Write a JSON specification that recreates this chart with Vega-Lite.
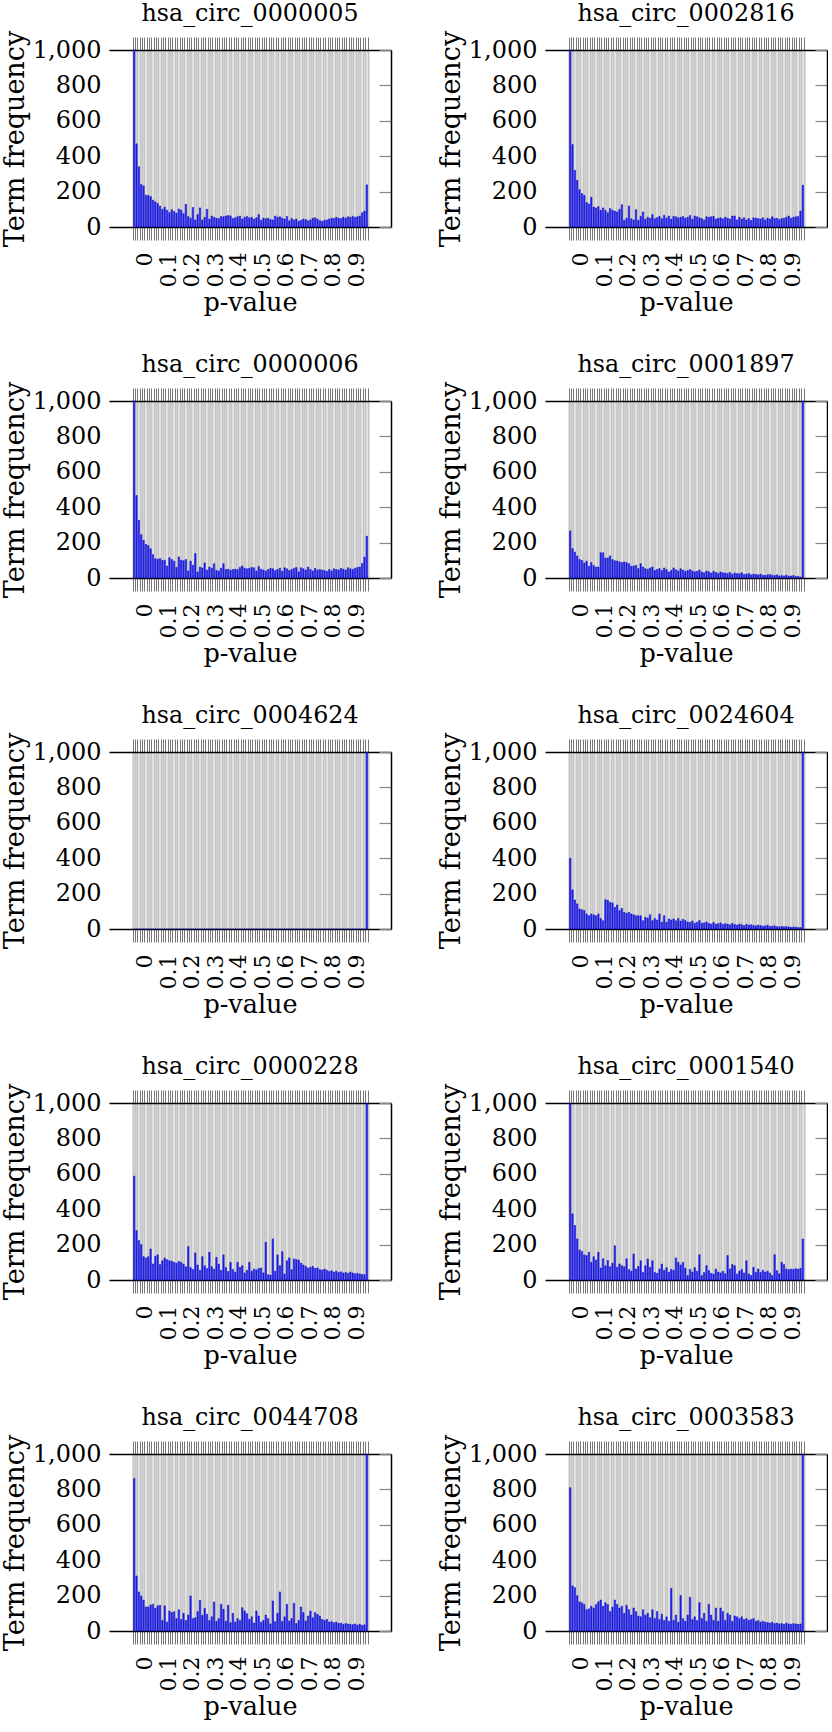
{"$schema":"https://vega.github.io/schema/vega-lite/v6.json","padding":{"left":1,"top":1,"right":0,"bottom":0},"config":{"view":{"stroke":null},"font":"DejaVu Serif"},"data":{"values":[
{"id":"hsa_circ_0000005","lo":0,"hi":0.01,"n":1000},{"id":"hsa_circ_0000005","lo":0.01,"hi":0.02,"n":470},{"id":"hsa_circ_0000005","lo":0.02,"hi":0.03,"n":340},{"id":"hsa_circ_0000005","lo":0.03,"hi":0.04,"n":240},{"id":"hsa_circ_0000005","lo":0.04,"hi":0.05,"n":232},{"id":"hsa_circ_0000005","lo":0.05,"hi":0.06,"n":180},{"id":"hsa_circ_0000005","lo":0.06,"hi":0.07,"n":178},{"id":"hsa_circ_0000005","lo":0.07,"hi":0.08,"n":172},{"id":"hsa_circ_0000005","lo":0.08,"hi":0.09,"n":152},{"id":"hsa_circ_0000005","lo":0.09,"hi":0.1,"n":142},
{"id":"hsa_circ_0000005","lo":0.1,"hi":0.11,"n":133},{"id":"hsa_circ_0000005","lo":0.11,"hi":0.12,"n":118},{"id":"hsa_circ_0000005","lo":0.12,"hi":0.13,"n":100},{"id":"hsa_circ_0000005","lo":0.13,"hi":0.14,"n":112},{"id":"hsa_circ_0000005","lo":0.14,"hi":0.15,"n":95},{"id":"hsa_circ_0000005","lo":0.15,"hi":0.16,"n":82},{"id":"hsa_circ_0000005","lo":0.16,"hi":0.17,"n":98},{"id":"hsa_circ_0000005","lo":0.17,"hi":0.18,"n":88},{"id":"hsa_circ_0000005","lo":0.18,"hi":0.19,"n":78},{"id":"hsa_circ_0000005","lo":0.19,"hi":0.2,"n":102},
{"id":"hsa_circ_0000005","lo":0.2,"hi":0.21,"n":95},{"id":"hsa_circ_0000005","lo":0.21,"hi":0.22,"n":75},{"id":"hsa_circ_0000005","lo":0.22,"hi":0.23,"n":128},{"id":"hsa_circ_0000005","lo":0.23,"hi":0.24,"n":60},{"id":"hsa_circ_0000005","lo":0.24,"hi":0.25,"n":50},{"id":"hsa_circ_0000005","lo":0.25,"hi":0.26,"n":110},{"id":"hsa_circ_0000005","lo":0.26,"hi":0.27,"n":40},{"id":"hsa_circ_0000005","lo":0.27,"hi":0.28,"n":70},{"id":"hsa_circ_0000005","lo":0.28,"hi":0.29,"n":108},{"id":"hsa_circ_0000005","lo":0.29,"hi":0.3,"n":40},
{"id":"hsa_circ_0000005","lo":0.3,"hi":0.31,"n":55},{"id":"hsa_circ_0000005","lo":0.31,"hi":0.32,"n":100},{"id":"hsa_circ_0000005","lo":0.32,"hi":0.33,"n":45},{"id":"hsa_circ_0000005","lo":0.33,"hi":0.34,"n":62},{"id":"hsa_circ_0000005","lo":0.34,"hi":0.35,"n":55},{"id":"hsa_circ_0000005","lo":0.35,"hi":0.36,"n":50},{"id":"hsa_circ_0000005","lo":0.36,"hi":0.37,"n":48},{"id":"hsa_circ_0000005","lo":0.37,"hi":0.38,"n":60},{"id":"hsa_circ_0000005","lo":0.38,"hi":0.39,"n":58},{"id":"hsa_circ_0000005","lo":0.39,"hi":0.4,"n":62},
{"id":"hsa_circ_0000005","lo":0.4,"hi":0.41,"n":65},{"id":"hsa_circ_0000005","lo":0.41,"hi":0.42,"n":63},{"id":"hsa_circ_0000005","lo":0.42,"hi":0.43,"n":48},{"id":"hsa_circ_0000005","lo":0.43,"hi":0.44,"n":52},{"id":"hsa_circ_0000005","lo":0.44,"hi":0.45,"n":58},{"id":"hsa_circ_0000005","lo":0.45,"hi":0.46,"n":62},{"id":"hsa_circ_0000005","lo":0.46,"hi":0.47,"n":45},{"id":"hsa_circ_0000005","lo":0.47,"hi":0.48,"n":55},{"id":"hsa_circ_0000005","lo":0.48,"hi":0.49,"n":60},{"id":"hsa_circ_0000005","lo":0.49,"hi":0.5,"n":52},
{"id":"hsa_circ_0000005","lo":0.5,"hi":0.51,"n":55},{"id":"hsa_circ_0000005","lo":0.51,"hi":0.52,"n":45},{"id":"hsa_circ_0000005","lo":0.52,"hi":0.53,"n":52},{"id":"hsa_circ_0000005","lo":0.53,"hi":0.54,"n":70},{"id":"hsa_circ_0000005","lo":0.54,"hi":0.55,"n":38},{"id":"hsa_circ_0000005","lo":0.55,"hi":0.56,"n":50},{"id":"hsa_circ_0000005","lo":0.56,"hi":0.57,"n":47},{"id":"hsa_circ_0000005","lo":0.57,"hi":0.58,"n":50},{"id":"hsa_circ_0000005","lo":0.58,"hi":0.59,"n":42},{"id":"hsa_circ_0000005","lo":0.59,"hi":0.6,"n":40},
{"id":"hsa_circ_0000005","lo":0.6,"hi":0.61,"n":62},{"id":"hsa_circ_0000005","lo":0.61,"hi":0.62,"n":55},{"id":"hsa_circ_0000005","lo":0.62,"hi":0.63,"n":58},{"id":"hsa_circ_0000005","lo":0.63,"hi":0.64,"n":50},{"id":"hsa_circ_0000005","lo":0.64,"hi":0.65,"n":45},{"id":"hsa_circ_0000005","lo":0.65,"hi":0.66,"n":60},{"id":"hsa_circ_0000005","lo":0.66,"hi":0.67,"n":35},{"id":"hsa_circ_0000005","lo":0.67,"hi":0.68,"n":48},{"id":"hsa_circ_0000005","lo":0.68,"hi":0.69,"n":40},{"id":"hsa_circ_0000005","lo":0.69,"hi":0.7,"n":45},
{"id":"hsa_circ_0000005","lo":0.7,"hi":0.71,"n":32},{"id":"hsa_circ_0000005","lo":0.71,"hi":0.72,"n":38},{"id":"hsa_circ_0000005","lo":0.72,"hi":0.73,"n":45},{"id":"hsa_circ_0000005","lo":0.73,"hi":0.74,"n":42},{"id":"hsa_circ_0000005","lo":0.74,"hi":0.75,"n":35},{"id":"hsa_circ_0000005","lo":0.75,"hi":0.76,"n":40},{"id":"hsa_circ_0000005","lo":0.76,"hi":0.77,"n":50},{"id":"hsa_circ_0000005","lo":0.77,"hi":0.78,"n":52},{"id":"hsa_circ_0000005","lo":0.78,"hi":0.79,"n":45},{"id":"hsa_circ_0000005","lo":0.79,"hi":0.8,"n":36},
{"id":"hsa_circ_0000005","lo":0.8,"hi":0.81,"n":32},{"id":"hsa_circ_0000005","lo":0.81,"hi":0.82,"n":38},{"id":"hsa_circ_0000005","lo":0.82,"hi":0.83,"n":40},{"id":"hsa_circ_0000005","lo":0.83,"hi":0.84,"n":45},{"id":"hsa_circ_0000005","lo":0.84,"hi":0.85,"n":50},{"id":"hsa_circ_0000005","lo":0.85,"hi":0.86,"n":48},{"id":"hsa_circ_0000005","lo":0.86,"hi":0.87,"n":55},{"id":"hsa_circ_0000005","lo":0.87,"hi":0.88,"n":50},{"id":"hsa_circ_0000005","lo":0.88,"hi":0.89,"n":48},{"id":"hsa_circ_0000005","lo":0.89,"hi":0.9,"n":56},
{"id":"hsa_circ_0000005","lo":0.9,"hi":0.91,"n":50},{"id":"hsa_circ_0000005","lo":0.91,"hi":0.92,"n":58},{"id":"hsa_circ_0000005","lo":0.92,"hi":0.93,"n":55},{"id":"hsa_circ_0000005","lo":0.93,"hi":0.94,"n":60},{"id":"hsa_circ_0000005","lo":0.94,"hi":0.95,"n":55},{"id":"hsa_circ_0000005","lo":0.95,"hi":0.96,"n":58},{"id":"hsa_circ_0000005","lo":0.96,"hi":0.97,"n":62},{"id":"hsa_circ_0000005","lo":0.97,"hi":0.98,"n":80},{"id":"hsa_circ_0000005","lo":0.98,"hi":0.99,"n":90},{"id":"hsa_circ_0000005","lo":0.99,"hi":1,"n":238},
{"id":"hsa_circ_0002816","lo":0,"hi":0.01,"n":1000},{"id":"hsa_circ_0002816","lo":0.01,"hi":0.02,"n":466},{"id":"hsa_circ_0002816","lo":0.02,"hi":0.03,"n":320},{"id":"hsa_circ_0002816","lo":0.03,"hi":0.04,"n":264},{"id":"hsa_circ_0002816","lo":0.04,"hi":0.05,"n":211},{"id":"hsa_circ_0002816","lo":0.05,"hi":0.06,"n":189},{"id":"hsa_circ_0002816","lo":0.06,"hi":0.07,"n":179},{"id":"hsa_circ_0002816","lo":0.07,"hi":0.08,"n":138},{"id":"hsa_circ_0002816","lo":0.08,"hi":0.09,"n":130},{"id":"hsa_circ_0002816","lo":0.09,"hi":0.1,"n":168},
{"id":"hsa_circ_0002816","lo":0.1,"hi":0.11,"n":113},{"id":"hsa_circ_0002816","lo":0.11,"hi":0.12,"n":108},{"id":"hsa_circ_0002816","lo":0.12,"hi":0.13,"n":115},{"id":"hsa_circ_0002816","lo":0.13,"hi":0.14,"n":94},{"id":"hsa_circ_0002816","lo":0.14,"hi":0.15,"n":108},{"id":"hsa_circ_0002816","lo":0.15,"hi":0.16,"n":94},{"id":"hsa_circ_0002816","lo":0.16,"hi":0.17,"n":81},{"id":"hsa_circ_0002816","lo":0.17,"hi":0.18,"n":104},{"id":"hsa_circ_0002816","lo":0.18,"hi":0.19,"n":95},{"id":"hsa_circ_0002816","lo":0.19,"hi":0.2,"n":90},
{"id":"hsa_circ_0002816","lo":0.2,"hi":0.21,"n":85},{"id":"hsa_circ_0002816","lo":0.21,"hi":0.22,"n":100},{"id":"hsa_circ_0002816","lo":0.22,"hi":0.23,"n":126},{"id":"hsa_circ_0002816","lo":0.23,"hi":0.24,"n":38},{"id":"hsa_circ_0002816","lo":0.24,"hi":0.25,"n":50},{"id":"hsa_circ_0002816","lo":0.25,"hi":0.26,"n":119},{"id":"hsa_circ_0002816","lo":0.26,"hi":0.27,"n":47},{"id":"hsa_circ_0002816","lo":0.27,"hi":0.28,"n":40},{"id":"hsa_circ_0002816","lo":0.28,"hi":0.29,"n":98},{"id":"hsa_circ_0002816","lo":0.29,"hi":0.3,"n":38},
{"id":"hsa_circ_0002816","lo":0.3,"hi":0.31,"n":60},{"id":"hsa_circ_0002816","lo":0.31,"hi":0.32,"n":85},{"id":"hsa_circ_0002816","lo":0.32,"hi":0.33,"n":45},{"id":"hsa_circ_0002816","lo":0.33,"hi":0.34,"n":55},{"id":"hsa_circ_0002816","lo":0.34,"hi":0.35,"n":50},{"id":"hsa_circ_0002816","lo":0.35,"hi":0.36,"n":70},{"id":"hsa_circ_0002816","lo":0.36,"hi":0.37,"n":47},{"id":"hsa_circ_0002816","lo":0.37,"hi":0.38,"n":53},{"id":"hsa_circ_0002816","lo":0.38,"hi":0.39,"n":60},{"id":"hsa_circ_0002816","lo":0.39,"hi":0.4,"n":47},
{"id":"hsa_circ_0002816","lo":0.4,"hi":0.41,"n":66},{"id":"hsa_circ_0002816","lo":0.41,"hi":0.42,"n":50},{"id":"hsa_circ_0002816","lo":0.42,"hi":0.43,"n":62},{"id":"hsa_circ_0002816","lo":0.43,"hi":0.44,"n":45},{"id":"hsa_circ_0002816","lo":0.44,"hi":0.45,"n":60},{"id":"hsa_circ_0002816","lo":0.45,"hi":0.46,"n":58},{"id":"hsa_circ_0002816","lo":0.46,"hi":0.47,"n":52},{"id":"hsa_circ_0002816","lo":0.47,"hi":0.48,"n":55},{"id":"hsa_circ_0002816","lo":0.48,"hi":0.49,"n":60},{"id":"hsa_circ_0002816","lo":0.49,"hi":0.5,"n":50},
{"id":"hsa_circ_0002816","lo":0.5,"hi":0.51,"n":55},{"id":"hsa_circ_0002816","lo":0.51,"hi":0.52,"n":65},{"id":"hsa_circ_0002816","lo":0.52,"hi":0.53,"n":45},{"id":"hsa_circ_0002816","lo":0.53,"hi":0.54,"n":62},{"id":"hsa_circ_0002816","lo":0.54,"hi":0.55,"n":58},{"id":"hsa_circ_0002816","lo":0.55,"hi":0.56,"n":52},{"id":"hsa_circ_0002816","lo":0.56,"hi":0.57,"n":48},{"id":"hsa_circ_0002816","lo":0.57,"hi":0.58,"n":40},{"id":"hsa_circ_0002816","lo":0.58,"hi":0.59,"n":58},{"id":"hsa_circ_0002816","lo":0.59,"hi":0.6,"n":55},
{"id":"hsa_circ_0002816","lo":0.6,"hi":0.61,"n":58},{"id":"hsa_circ_0002816","lo":0.61,"hi":0.62,"n":60},{"id":"hsa_circ_0002816","lo":0.62,"hi":0.63,"n":45},{"id":"hsa_circ_0002816","lo":0.63,"hi":0.64,"n":50},{"id":"hsa_circ_0002816","lo":0.64,"hi":0.65,"n":52},{"id":"hsa_circ_0002816","lo":0.65,"hi":0.66,"n":46},{"id":"hsa_circ_0002816","lo":0.66,"hi":0.67,"n":55},{"id":"hsa_circ_0002816","lo":0.67,"hi":0.68,"n":50},{"id":"hsa_circ_0002816","lo":0.68,"hi":0.69,"n":45},{"id":"hsa_circ_0002816","lo":0.69,"hi":0.7,"n":62},
{"id":"hsa_circ_0002816","lo":0.7,"hi":0.71,"n":62},{"id":"hsa_circ_0002816","lo":0.71,"hi":0.72,"n":40},{"id":"hsa_circ_0002816","lo":0.72,"hi":0.73,"n":55},{"id":"hsa_circ_0002816","lo":0.73,"hi":0.74,"n":45},{"id":"hsa_circ_0002816","lo":0.74,"hi":0.75,"n":52},{"id":"hsa_circ_0002816","lo":0.75,"hi":0.76,"n":40},{"id":"hsa_circ_0002816","lo":0.76,"hi":0.77,"n":48},{"id":"hsa_circ_0002816","lo":0.77,"hi":0.78,"n":38},{"id":"hsa_circ_0002816","lo":0.78,"hi":0.79,"n":52},{"id":"hsa_circ_0002816","lo":0.79,"hi":0.8,"n":50},
{"id":"hsa_circ_0002816","lo":0.8,"hi":0.81,"n":48},{"id":"hsa_circ_0002816","lo":0.81,"hi":0.82,"n":45},{"id":"hsa_circ_0002816","lo":0.82,"hi":0.83,"n":52},{"id":"hsa_circ_0002816","lo":0.83,"hi":0.84,"n":40},{"id":"hsa_circ_0002816","lo":0.84,"hi":0.85,"n":50},{"id":"hsa_circ_0002816","lo":0.85,"hi":0.86,"n":45},{"id":"hsa_circ_0002816","lo":0.86,"hi":0.87,"n":58},{"id":"hsa_circ_0002816","lo":0.87,"hi":0.88,"n":48},{"id":"hsa_circ_0002816","lo":0.88,"hi":0.89,"n":50},{"id":"hsa_circ_0002816","lo":0.89,"hi":0.9,"n":42},
{"id":"hsa_circ_0002816","lo":0.9,"hi":0.91,"n":48},{"id":"hsa_circ_0002816","lo":0.91,"hi":0.92,"n":50},{"id":"hsa_circ_0002816","lo":0.92,"hi":0.93,"n":55},{"id":"hsa_circ_0002816","lo":0.93,"hi":0.94,"n":62},{"id":"hsa_circ_0002816","lo":0.94,"hi":0.95,"n":50},{"id":"hsa_circ_0002816","lo":0.95,"hi":0.96,"n":55},{"id":"hsa_circ_0002816","lo":0.96,"hi":0.97,"n":58},{"id":"hsa_circ_0002816","lo":0.97,"hi":0.98,"n":60},{"id":"hsa_circ_0002816","lo":0.98,"hi":0.99,"n":90},{"id":"hsa_circ_0002816","lo":0.99,"hi":1,"n":236},
{"id":"hsa_circ_0000006","lo":0,"hi":0.01,"n":1000},{"id":"hsa_circ_0000006","lo":0.01,"hi":0.02,"n":466},{"id":"hsa_circ_0000006","lo":0.02,"hi":0.03,"n":326},{"id":"hsa_circ_0000006","lo":0.03,"hi":0.04,"n":245},{"id":"hsa_circ_0000006","lo":0.04,"hi":0.05,"n":213},{"id":"hsa_circ_0000006","lo":0.05,"hi":0.06,"n":190},{"id":"hsa_circ_0000006","lo":0.06,"hi":0.07,"n":183},{"id":"hsa_circ_0000006","lo":0.07,"hi":0.08,"n":165},{"id":"hsa_circ_0000006","lo":0.08,"hi":0.09,"n":132},{"id":"hsa_circ_0000006","lo":0.09,"hi":0.1,"n":109},
{"id":"hsa_circ_0000006","lo":0.1,"hi":0.11,"n":106},{"id":"hsa_circ_0000006","lo":0.11,"hi":0.12,"n":110},{"id":"hsa_circ_0000006","lo":0.12,"hi":0.13,"n":100},{"id":"hsa_circ_0000006","lo":0.13,"hi":0.14,"n":100},{"id":"hsa_circ_0000006","lo":0.14,"hi":0.15,"n":68},{"id":"hsa_circ_0000006","lo":0.15,"hi":0.16,"n":115},{"id":"hsa_circ_0000006","lo":0.16,"hi":0.17,"n":104},{"id":"hsa_circ_0000006","lo":0.17,"hi":0.18,"n":96},{"id":"hsa_circ_0000006","lo":0.18,"hi":0.19,"n":60},{"id":"hsa_circ_0000006","lo":0.19,"hi":0.2,"n":119},
{"id":"hsa_circ_0000006","lo":0.2,"hi":0.21,"n":100},{"id":"hsa_circ_0000006","lo":0.21,"hi":0.22,"n":98},{"id":"hsa_circ_0000006","lo":0.22,"hi":0.23,"n":105},{"id":"hsa_circ_0000006","lo":0.23,"hi":0.24,"n":40},{"id":"hsa_circ_0000006","lo":0.24,"hi":0.25,"n":95},{"id":"hsa_circ_0000006","lo":0.25,"hi":0.26,"n":72},{"id":"hsa_circ_0000006","lo":0.26,"hi":0.27,"n":138},{"id":"hsa_circ_0000006","lo":0.27,"hi":0.28,"n":34},{"id":"hsa_circ_0000006","lo":0.28,"hi":0.29,"n":62},{"id":"hsa_circ_0000006","lo":0.29,"hi":0.3,"n":57},
{"id":"hsa_circ_0000006","lo":0.3,"hi":0.31,"n":85},{"id":"hsa_circ_0000006","lo":0.31,"hi":0.32,"n":45},{"id":"hsa_circ_0000006","lo":0.32,"hi":0.33,"n":62},{"id":"hsa_circ_0000006","lo":0.33,"hi":0.34,"n":55},{"id":"hsa_circ_0000006","lo":0.34,"hi":0.35,"n":81},{"id":"hsa_circ_0000006","lo":0.35,"hi":0.36,"n":43},{"id":"hsa_circ_0000006","lo":0.36,"hi":0.37,"n":40},{"id":"hsa_circ_0000006","lo":0.37,"hi":0.38,"n":55},{"id":"hsa_circ_0000006","lo":0.38,"hi":0.39,"n":81},{"id":"hsa_circ_0000006","lo":0.39,"hi":0.4,"n":48},
{"id":"hsa_circ_0000006","lo":0.4,"hi":0.41,"n":50},{"id":"hsa_circ_0000006","lo":0.41,"hi":0.42,"n":45},{"id":"hsa_circ_0000006","lo":0.42,"hi":0.43,"n":48},{"id":"hsa_circ_0000006","lo":0.43,"hi":0.44,"n":50},{"id":"hsa_circ_0000006","lo":0.44,"hi":0.45,"n":48},{"id":"hsa_circ_0000006","lo":0.45,"hi":0.46,"n":60},{"id":"hsa_circ_0000006","lo":0.46,"hi":0.47,"n":68},{"id":"hsa_circ_0000006","lo":0.47,"hi":0.48,"n":55},{"id":"hsa_circ_0000006","lo":0.48,"hi":0.49,"n":52},{"id":"hsa_circ_0000006","lo":0.49,"hi":0.5,"n":55},
{"id":"hsa_circ_0000006","lo":0.5,"hi":0.51,"n":60},{"id":"hsa_circ_0000006","lo":0.51,"hi":0.52,"n":58},{"id":"hsa_circ_0000006","lo":0.52,"hi":0.53,"n":40},{"id":"hsa_circ_0000006","lo":0.53,"hi":0.54,"n":65},{"id":"hsa_circ_0000006","lo":0.54,"hi":0.55,"n":50},{"id":"hsa_circ_0000006","lo":0.55,"hi":0.56,"n":45},{"id":"hsa_circ_0000006","lo":0.56,"hi":0.57,"n":40},{"id":"hsa_circ_0000006","lo":0.57,"hi":0.58,"n":48},{"id":"hsa_circ_0000006","lo":0.58,"hi":0.59,"n":55},{"id":"hsa_circ_0000006","lo":0.59,"hi":0.6,"n":52},
{"id":"hsa_circ_0000006","lo":0.6,"hi":0.61,"n":42},{"id":"hsa_circ_0000006","lo":0.61,"hi":0.62,"n":48},{"id":"hsa_circ_0000006","lo":0.62,"hi":0.63,"n":55},{"id":"hsa_circ_0000006","lo":0.63,"hi":0.64,"n":38},{"id":"hsa_circ_0000006","lo":0.64,"hi":0.65,"n":58},{"id":"hsa_circ_0000006","lo":0.65,"hi":0.66,"n":52},{"id":"hsa_circ_0000006","lo":0.66,"hi":0.67,"n":42},{"id":"hsa_circ_0000006","lo":0.67,"hi":0.68,"n":48},{"id":"hsa_circ_0000006","lo":0.68,"hi":0.69,"n":55},{"id":"hsa_circ_0000006","lo":0.69,"hi":0.7,"n":60},
{"id":"hsa_circ_0000006","lo":0.7,"hi":0.71,"n":35},{"id":"hsa_circ_0000006","lo":0.71,"hi":0.72,"n":58},{"id":"hsa_circ_0000006","lo":0.72,"hi":0.73,"n":52},{"id":"hsa_circ_0000006","lo":0.73,"hi":0.74,"n":45},{"id":"hsa_circ_0000006","lo":0.74,"hi":0.75,"n":62},{"id":"hsa_circ_0000006","lo":0.75,"hi":0.76,"n":48},{"id":"hsa_circ_0000006","lo":0.76,"hi":0.77,"n":40},{"id":"hsa_circ_0000006","lo":0.77,"hi":0.78,"n":55},{"id":"hsa_circ_0000006","lo":0.78,"hi":0.79,"n":45},{"id":"hsa_circ_0000006","lo":0.79,"hi":0.8,"n":48},
{"id":"hsa_circ_0000006","lo":0.8,"hi":0.81,"n":45},{"id":"hsa_circ_0000006","lo":0.81,"hi":0.82,"n":42},{"id":"hsa_circ_0000006","lo":0.82,"hi":0.83,"n":38},{"id":"hsa_circ_0000006","lo":0.83,"hi":0.84,"n":48},{"id":"hsa_circ_0000006","lo":0.84,"hi":0.85,"n":40},{"id":"hsa_circ_0000006","lo":0.85,"hi":0.86,"n":52},{"id":"hsa_circ_0000006","lo":0.86,"hi":0.87,"n":48},{"id":"hsa_circ_0000006","lo":0.87,"hi":0.88,"n":45},{"id":"hsa_circ_0000006","lo":0.88,"hi":0.89,"n":55},{"id":"hsa_circ_0000006","lo":0.89,"hi":0.9,"n":50},
{"id":"hsa_circ_0000006","lo":0.9,"hi":0.91,"n":45},{"id":"hsa_circ_0000006","lo":0.91,"hi":0.92,"n":58},{"id":"hsa_circ_0000006","lo":0.92,"hi":0.93,"n":52},{"id":"hsa_circ_0000006","lo":0.93,"hi":0.94,"n":48},{"id":"hsa_circ_0000006","lo":0.94,"hi":0.95,"n":55},{"id":"hsa_circ_0000006","lo":0.95,"hi":0.96,"n":60},{"id":"hsa_circ_0000006","lo":0.96,"hi":0.97,"n":62},{"id":"hsa_circ_0000006","lo":0.97,"hi":0.98,"n":82},{"id":"hsa_circ_0000006","lo":0.98,"hi":0.99,"n":118},{"id":"hsa_circ_0000006","lo":0.99,"hi":1,"n":236},
{"id":"hsa_circ_0001897","lo":0,"hi":0.01,"n":266},{"id":"hsa_circ_0001897","lo":0.01,"hi":0.02,"n":166},{"id":"hsa_circ_0001897","lo":0.02,"hi":0.03,"n":147},{"id":"hsa_circ_0001897","lo":0.03,"hi":0.04,"n":125},{"id":"hsa_circ_0001897","lo":0.04,"hi":0.05,"n":104},{"id":"hsa_circ_0001897","lo":0.05,"hi":0.06,"n":100},{"id":"hsa_circ_0001897","lo":0.06,"hi":0.07,"n":85},{"id":"hsa_circ_0001897","lo":0.07,"hi":0.08,"n":95},{"id":"hsa_circ_0001897","lo":0.08,"hi":0.09,"n":66},{"id":"hsa_circ_0001897","lo":0.09,"hi":0.1,"n":87},
{"id":"hsa_circ_0001897","lo":0.1,"hi":0.11,"n":70},{"id":"hsa_circ_0001897","lo":0.11,"hi":0.12,"n":62},{"id":"hsa_circ_0001897","lo":0.12,"hi":0.13,"n":62},{"id":"hsa_circ_0001897","lo":0.13,"hi":0.14,"n":143},{"id":"hsa_circ_0001897","lo":0.14,"hi":0.15,"n":143},{"id":"hsa_circ_0001897","lo":0.15,"hi":0.16,"n":113},{"id":"hsa_circ_0001897","lo":0.16,"hi":0.17,"n":113},{"id":"hsa_circ_0001897","lo":0.17,"hi":0.18,"n":125},{"id":"hsa_circ_0001897","lo":0.18,"hi":0.19,"n":104},{"id":"hsa_circ_0001897","lo":0.19,"hi":0.2,"n":98},
{"id":"hsa_circ_0001897","lo":0.2,"hi":0.21,"n":96},{"id":"hsa_circ_0001897","lo":0.21,"hi":0.22,"n":91},{"id":"hsa_circ_0001897","lo":0.22,"hi":0.23,"n":87},{"id":"hsa_circ_0001897","lo":0.23,"hi":0.24,"n":91},{"id":"hsa_circ_0001897","lo":0.24,"hi":0.25,"n":87},{"id":"hsa_circ_0001897","lo":0.25,"hi":0.26,"n":81},{"id":"hsa_circ_0001897","lo":0.26,"hi":0.27,"n":66},{"id":"hsa_circ_0001897","lo":0.27,"hi":0.28,"n":68},{"id":"hsa_circ_0001897","lo":0.28,"hi":0.29,"n":72},{"id":"hsa_circ_0001897","lo":0.29,"hi":0.3,"n":53},
{"id":"hsa_circ_0001897","lo":0.3,"hi":0.31,"n":81},{"id":"hsa_circ_0001897","lo":0.31,"hi":0.32,"n":62},{"id":"hsa_circ_0001897","lo":0.32,"hi":0.33,"n":53},{"id":"hsa_circ_0001897","lo":0.33,"hi":0.34,"n":49},{"id":"hsa_circ_0001897","lo":0.34,"hi":0.35,"n":57},{"id":"hsa_circ_0001897","lo":0.35,"hi":0.36,"n":62},{"id":"hsa_circ_0001897","lo":0.36,"hi":0.37,"n":43},{"id":"hsa_circ_0001897","lo":0.37,"hi":0.38,"n":49},{"id":"hsa_circ_0001897","lo":0.38,"hi":0.39,"n":53},{"id":"hsa_circ_0001897","lo":0.39,"hi":0.4,"n":42},
{"id":"hsa_circ_0001897","lo":0.4,"hi":0.41,"n":57},{"id":"hsa_circ_0001897","lo":0.41,"hi":0.42,"n":47},{"id":"hsa_circ_0001897","lo":0.42,"hi":0.43,"n":34},{"id":"hsa_circ_0001897","lo":0.43,"hi":0.44,"n":43},{"id":"hsa_circ_0001897","lo":0.44,"hi":0.45,"n":57},{"id":"hsa_circ_0001897","lo":0.45,"hi":0.46,"n":47},{"id":"hsa_circ_0001897","lo":0.46,"hi":0.47,"n":40},{"id":"hsa_circ_0001897","lo":0.47,"hi":0.48,"n":52},{"id":"hsa_circ_0001897","lo":0.48,"hi":0.49,"n":45},{"id":"hsa_circ_0001897","lo":0.49,"hi":0.5,"n":38},
{"id":"hsa_circ_0001897","lo":0.5,"hi":0.51,"n":42},{"id":"hsa_circ_0001897","lo":0.51,"hi":0.52,"n":48},{"id":"hsa_circ_0001897","lo":0.52,"hi":0.53,"n":40},{"id":"hsa_circ_0001897","lo":0.53,"hi":0.54,"n":35},{"id":"hsa_circ_0001897","lo":0.54,"hi":0.55,"n":38},{"id":"hsa_circ_0001897","lo":0.55,"hi":0.56,"n":45},{"id":"hsa_circ_0001897","lo":0.56,"hi":0.57,"n":34},{"id":"hsa_circ_0001897","lo":0.57,"hi":0.58,"n":30},{"id":"hsa_circ_0001897","lo":0.58,"hi":0.59,"n":40},{"id":"hsa_circ_0001897","lo":0.59,"hi":0.6,"n":36},
{"id":"hsa_circ_0001897","lo":0.6,"hi":0.61,"n":28},{"id":"hsa_circ_0001897","lo":0.61,"hi":0.62,"n":38},{"id":"hsa_circ_0001897","lo":0.62,"hi":0.63,"n":32},{"id":"hsa_circ_0001897","lo":0.63,"hi":0.64,"n":26},{"id":"hsa_circ_0001897","lo":0.64,"hi":0.65,"n":34},{"id":"hsa_circ_0001897","lo":0.65,"hi":0.66,"n":30},{"id":"hsa_circ_0001897","lo":0.66,"hi":0.67,"n":28},{"id":"hsa_circ_0001897","lo":0.67,"hi":0.68,"n":25},{"id":"hsa_circ_0001897","lo":0.68,"hi":0.69,"n":32},{"id":"hsa_circ_0001897","lo":0.69,"hi":0.7,"n":22},
{"id":"hsa_circ_0001897","lo":0.7,"hi":0.71,"n":28},{"id":"hsa_circ_0001897","lo":0.71,"hi":0.72,"n":26},{"id":"hsa_circ_0001897","lo":0.72,"hi":0.73,"n":24},{"id":"hsa_circ_0001897","lo":0.73,"hi":0.74,"n":30},{"id":"hsa_circ_0001897","lo":0.74,"hi":0.75,"n":20},{"id":"hsa_circ_0001897","lo":0.75,"hi":0.76,"n":22},{"id":"hsa_circ_0001897","lo":0.76,"hi":0.77,"n":26},{"id":"hsa_circ_0001897","lo":0.77,"hi":0.78,"n":18},{"id":"hsa_circ_0001897","lo":0.78,"hi":0.79,"n":22},{"id":"hsa_circ_0001897","lo":0.79,"hi":0.8,"n":20},
{"id":"hsa_circ_0001897","lo":0.8,"hi":0.81,"n":18},{"id":"hsa_circ_0001897","lo":0.81,"hi":0.82,"n":22},{"id":"hsa_circ_0001897","lo":0.82,"hi":0.83,"n":16},{"id":"hsa_circ_0001897","lo":0.83,"hi":0.84,"n":15},{"id":"hsa_circ_0001897","lo":0.84,"hi":0.85,"n":18},{"id":"hsa_circ_0001897","lo":0.85,"hi":0.86,"n":20},{"id":"hsa_circ_0001897","lo":0.86,"hi":0.87,"n":16},{"id":"hsa_circ_0001897","lo":0.87,"hi":0.88,"n":14},{"id":"hsa_circ_0001897","lo":0.88,"hi":0.89,"n":18},{"id":"hsa_circ_0001897","lo":0.89,"hi":0.9,"n":12},
{"id":"hsa_circ_0001897","lo":0.9,"hi":0.91,"n":14},{"id":"hsa_circ_0001897","lo":0.91,"hi":0.92,"n":12},{"id":"hsa_circ_0001897","lo":0.92,"hi":0.93,"n":16},{"id":"hsa_circ_0001897","lo":0.93,"hi":0.94,"n":10},{"id":"hsa_circ_0001897","lo":0.94,"hi":0.95,"n":12},{"id":"hsa_circ_0001897","lo":0.95,"hi":0.96,"n":14},{"id":"hsa_circ_0001897","lo":0.96,"hi":0.97,"n":8},{"id":"hsa_circ_0001897","lo":0.97,"hi":0.98,"n":10},{"id":"hsa_circ_0001897","lo":0.98,"hi":0.99,"n":6},{"id":"hsa_circ_0001897","lo":0.99,"hi":1,"n":1000},
{"id":"hsa_circ_0004624","lo":0,"hi":0.01,"n":0},{"id":"hsa_circ_0004624","lo":0.01,"hi":0.02,"n":0},{"id":"hsa_circ_0004624","lo":0.02,"hi":0.03,"n":0},{"id":"hsa_circ_0004624","lo":0.03,"hi":0.04,"n":0},{"id":"hsa_circ_0004624","lo":0.04,"hi":0.05,"n":0},{"id":"hsa_circ_0004624","lo":0.05,"hi":0.06,"n":0},{"id":"hsa_circ_0004624","lo":0.06,"hi":0.07,"n":0},{"id":"hsa_circ_0004624","lo":0.07,"hi":0.08,"n":0},{"id":"hsa_circ_0004624","lo":0.08,"hi":0.09,"n":0},{"id":"hsa_circ_0004624","lo":0.09,"hi":0.1,"n":0},
{"id":"hsa_circ_0004624","lo":0.1,"hi":0.11,"n":0},{"id":"hsa_circ_0004624","lo":0.11,"hi":0.12,"n":0},{"id":"hsa_circ_0004624","lo":0.12,"hi":0.13,"n":0},{"id":"hsa_circ_0004624","lo":0.13,"hi":0.14,"n":0},{"id":"hsa_circ_0004624","lo":0.14,"hi":0.15,"n":0},{"id":"hsa_circ_0004624","lo":0.15,"hi":0.16,"n":0},{"id":"hsa_circ_0004624","lo":0.16,"hi":0.17,"n":0},{"id":"hsa_circ_0004624","lo":0.17,"hi":0.18,"n":0},{"id":"hsa_circ_0004624","lo":0.18,"hi":0.19,"n":0},{"id":"hsa_circ_0004624","lo":0.19,"hi":0.2,"n":0},
{"id":"hsa_circ_0004624","lo":0.2,"hi":0.21,"n":0},{"id":"hsa_circ_0004624","lo":0.21,"hi":0.22,"n":0},{"id":"hsa_circ_0004624","lo":0.22,"hi":0.23,"n":0},{"id":"hsa_circ_0004624","lo":0.23,"hi":0.24,"n":0},{"id":"hsa_circ_0004624","lo":0.24,"hi":0.25,"n":0},{"id":"hsa_circ_0004624","lo":0.25,"hi":0.26,"n":0},{"id":"hsa_circ_0004624","lo":0.26,"hi":0.27,"n":0},{"id":"hsa_circ_0004624","lo":0.27,"hi":0.28,"n":0},{"id":"hsa_circ_0004624","lo":0.28,"hi":0.29,"n":0},{"id":"hsa_circ_0004624","lo":0.29,"hi":0.3,"n":0},
{"id":"hsa_circ_0004624","lo":0.3,"hi":0.31,"n":0},{"id":"hsa_circ_0004624","lo":0.31,"hi":0.32,"n":0},{"id":"hsa_circ_0004624","lo":0.32,"hi":0.33,"n":0},{"id":"hsa_circ_0004624","lo":0.33,"hi":0.34,"n":0},{"id":"hsa_circ_0004624","lo":0.34,"hi":0.35,"n":0},{"id":"hsa_circ_0004624","lo":0.35,"hi":0.36,"n":0},{"id":"hsa_circ_0004624","lo":0.36,"hi":0.37,"n":0},{"id":"hsa_circ_0004624","lo":0.37,"hi":0.38,"n":0},{"id":"hsa_circ_0004624","lo":0.38,"hi":0.39,"n":0},{"id":"hsa_circ_0004624","lo":0.39,"hi":0.4,"n":0},
{"id":"hsa_circ_0004624","lo":0.4,"hi":0.41,"n":0},{"id":"hsa_circ_0004624","lo":0.41,"hi":0.42,"n":0},{"id":"hsa_circ_0004624","lo":0.42,"hi":0.43,"n":0},{"id":"hsa_circ_0004624","lo":0.43,"hi":0.44,"n":0},{"id":"hsa_circ_0004624","lo":0.44,"hi":0.45,"n":0},{"id":"hsa_circ_0004624","lo":0.45,"hi":0.46,"n":0},{"id":"hsa_circ_0004624","lo":0.46,"hi":0.47,"n":0},{"id":"hsa_circ_0004624","lo":0.47,"hi":0.48,"n":0},{"id":"hsa_circ_0004624","lo":0.48,"hi":0.49,"n":0},{"id":"hsa_circ_0004624","lo":0.49,"hi":0.5,"n":0},
{"id":"hsa_circ_0004624","lo":0.5,"hi":0.51,"n":0},{"id":"hsa_circ_0004624","lo":0.51,"hi":0.52,"n":0},{"id":"hsa_circ_0004624","lo":0.52,"hi":0.53,"n":0},{"id":"hsa_circ_0004624","lo":0.53,"hi":0.54,"n":0},{"id":"hsa_circ_0004624","lo":0.54,"hi":0.55,"n":0},{"id":"hsa_circ_0004624","lo":0.55,"hi":0.56,"n":0},{"id":"hsa_circ_0004624","lo":0.56,"hi":0.57,"n":0},{"id":"hsa_circ_0004624","lo":0.57,"hi":0.58,"n":0},{"id":"hsa_circ_0004624","lo":0.58,"hi":0.59,"n":0},{"id":"hsa_circ_0004624","lo":0.59,"hi":0.6,"n":0},
{"id":"hsa_circ_0004624","lo":0.6,"hi":0.61,"n":0},{"id":"hsa_circ_0004624","lo":0.61,"hi":0.62,"n":0},{"id":"hsa_circ_0004624","lo":0.62,"hi":0.63,"n":0},{"id":"hsa_circ_0004624","lo":0.63,"hi":0.64,"n":0},{"id":"hsa_circ_0004624","lo":0.64,"hi":0.65,"n":0},{"id":"hsa_circ_0004624","lo":0.65,"hi":0.66,"n":0},{"id":"hsa_circ_0004624","lo":0.66,"hi":0.67,"n":0},{"id":"hsa_circ_0004624","lo":0.67,"hi":0.68,"n":0},{"id":"hsa_circ_0004624","lo":0.68,"hi":0.69,"n":0},{"id":"hsa_circ_0004624","lo":0.69,"hi":0.7,"n":0},
{"id":"hsa_circ_0004624","lo":0.7,"hi":0.71,"n":0},{"id":"hsa_circ_0004624","lo":0.71,"hi":0.72,"n":0},{"id":"hsa_circ_0004624","lo":0.72,"hi":0.73,"n":0},{"id":"hsa_circ_0004624","lo":0.73,"hi":0.74,"n":0},{"id":"hsa_circ_0004624","lo":0.74,"hi":0.75,"n":0},{"id":"hsa_circ_0004624","lo":0.75,"hi":0.76,"n":0},{"id":"hsa_circ_0004624","lo":0.76,"hi":0.77,"n":0},{"id":"hsa_circ_0004624","lo":0.77,"hi":0.78,"n":0},{"id":"hsa_circ_0004624","lo":0.78,"hi":0.79,"n":0},{"id":"hsa_circ_0004624","lo":0.79,"hi":0.8,"n":0},
{"id":"hsa_circ_0004624","lo":0.8,"hi":0.81,"n":0},{"id":"hsa_circ_0004624","lo":0.81,"hi":0.82,"n":0},{"id":"hsa_circ_0004624","lo":0.82,"hi":0.83,"n":0},{"id":"hsa_circ_0004624","lo":0.83,"hi":0.84,"n":0},{"id":"hsa_circ_0004624","lo":0.84,"hi":0.85,"n":0},{"id":"hsa_circ_0004624","lo":0.85,"hi":0.86,"n":0},{"id":"hsa_circ_0004624","lo":0.86,"hi":0.87,"n":0},{"id":"hsa_circ_0004624","lo":0.87,"hi":0.88,"n":0},{"id":"hsa_circ_0004624","lo":0.88,"hi":0.89,"n":0},{"id":"hsa_circ_0004624","lo":0.89,"hi":0.9,"n":0},
{"id":"hsa_circ_0004624","lo":0.9,"hi":0.91,"n":0},{"id":"hsa_circ_0004624","lo":0.91,"hi":0.92,"n":0},{"id":"hsa_circ_0004624","lo":0.92,"hi":0.93,"n":0},{"id":"hsa_circ_0004624","lo":0.93,"hi":0.94,"n":0},{"id":"hsa_circ_0004624","lo":0.94,"hi":0.95,"n":0},{"id":"hsa_circ_0004624","lo":0.95,"hi":0.96,"n":0},{"id":"hsa_circ_0004624","lo":0.96,"hi":0.97,"n":0},{"id":"hsa_circ_0004624","lo":0.97,"hi":0.98,"n":0},{"id":"hsa_circ_0004624","lo":0.98,"hi":0.99,"n":0},{"id":"hsa_circ_0004624","lo":0.99,"hi":1,"n":1000},
{"id":"hsa_circ_0024604","lo":0,"hi":0.01,"n":400},{"id":"hsa_circ_0024604","lo":0.01,"hi":0.02,"n":221},{"id":"hsa_circ_0024604","lo":0.02,"hi":0.03,"n":164},{"id":"hsa_circ_0024604","lo":0.03,"hi":0.04,"n":142},{"id":"hsa_circ_0024604","lo":0.04,"hi":0.05,"n":113},{"id":"hsa_circ_0024604","lo":0.05,"hi":0.06,"n":109},{"id":"hsa_circ_0024604","lo":0.06,"hi":0.07,"n":104},{"id":"hsa_circ_0024604","lo":0.07,"hi":0.08,"n":85},{"id":"hsa_circ_0024604","lo":0.08,"hi":0.09,"n":75},{"id":"hsa_circ_0024604","lo":0.09,"hi":0.1,"n":85},
{"id":"hsa_circ_0024604","lo":0.1,"hi":0.11,"n":80},{"id":"hsa_circ_0024604","lo":0.11,"hi":0.12,"n":75},{"id":"hsa_circ_0024604","lo":0.12,"hi":0.13,"n":85},{"id":"hsa_circ_0024604","lo":0.13,"hi":0.14,"n":60},{"id":"hsa_circ_0024604","lo":0.14,"hi":0.15,"n":47},{"id":"hsa_circ_0024604","lo":0.15,"hi":0.16,"n":166},{"id":"hsa_circ_0024604","lo":0.16,"hi":0.17,"n":162},{"id":"hsa_circ_0024604","lo":0.17,"hi":0.18,"n":151},{"id":"hsa_circ_0024604","lo":0.18,"hi":0.19,"n":147},{"id":"hsa_circ_0024604","lo":0.19,"hi":0.2,"n":123},
{"id":"hsa_circ_0024604","lo":0.2,"hi":0.21,"n":136},{"id":"hsa_circ_0024604","lo":0.21,"hi":0.22,"n":104},{"id":"hsa_circ_0024604","lo":0.22,"hi":0.23,"n":117},{"id":"hsa_circ_0024604","lo":0.23,"hi":0.24,"n":94},{"id":"hsa_circ_0024604","lo":0.24,"hi":0.25,"n":89},{"id":"hsa_circ_0024604","lo":0.25,"hi":0.26,"n":94},{"id":"hsa_circ_0024604","lo":0.26,"hi":0.27,"n":85},{"id":"hsa_circ_0024604","lo":0.27,"hi":0.28,"n":81},{"id":"hsa_circ_0024604","lo":0.28,"hi":0.29,"n":75},{"id":"hsa_circ_0024604","lo":0.29,"hi":0.3,"n":75},
{"id":"hsa_circ_0024604","lo":0.3,"hi":0.31,"n":75},{"id":"hsa_circ_0024604","lo":0.31,"hi":0.32,"n":47},{"id":"hsa_circ_0024604","lo":0.32,"hi":0.33,"n":66},{"id":"hsa_circ_0024604","lo":0.33,"hi":0.34,"n":62},{"id":"hsa_circ_0024604","lo":0.34,"hi":0.35,"n":81},{"id":"hsa_circ_0024604","lo":0.35,"hi":0.36,"n":47},{"id":"hsa_circ_0024604","lo":0.36,"hi":0.37,"n":60},{"id":"hsa_circ_0024604","lo":0.37,"hi":0.38,"n":51},{"id":"hsa_circ_0024604","lo":0.38,"hi":0.39,"n":85},{"id":"hsa_circ_0024604","lo":0.39,"hi":0.4,"n":38},
{"id":"hsa_circ_0024604","lo":0.4,"hi":0.41,"n":75},{"id":"hsa_circ_0024604","lo":0.41,"hi":0.42,"n":38},{"id":"hsa_circ_0024604","lo":0.42,"hi":0.43,"n":57},{"id":"hsa_circ_0024604","lo":0.43,"hi":0.44,"n":51},{"id":"hsa_circ_0024604","lo":0.44,"hi":0.45,"n":57},{"id":"hsa_circ_0024604","lo":0.45,"hi":0.46,"n":47},{"id":"hsa_circ_0024604","lo":0.46,"hi":0.47,"n":60},{"id":"hsa_circ_0024604","lo":0.47,"hi":0.48,"n":45},{"id":"hsa_circ_0024604","lo":0.48,"hi":0.49,"n":55},{"id":"hsa_circ_0024604","lo":0.49,"hi":0.5,"n":48},
{"id":"hsa_circ_0024604","lo":0.5,"hi":0.51,"n":40},{"id":"hsa_circ_0024604","lo":0.51,"hi":0.52,"n":38},{"id":"hsa_circ_0024604","lo":0.52,"hi":0.53,"n":45},{"id":"hsa_circ_0024604","lo":0.53,"hi":0.54,"n":32},{"id":"hsa_circ_0024604","lo":0.54,"hi":0.55,"n":38},{"id":"hsa_circ_0024604","lo":0.55,"hi":0.56,"n":48},{"id":"hsa_circ_0024604","lo":0.56,"hi":0.57,"n":32},{"id":"hsa_circ_0024604","lo":0.57,"hi":0.58,"n":35},{"id":"hsa_circ_0024604","lo":0.58,"hi":0.59,"n":40},{"id":"hsa_circ_0024604","lo":0.59,"hi":0.6,"n":32},
{"id":"hsa_circ_0024604","lo":0.6,"hi":0.61,"n":28},{"id":"hsa_circ_0024604","lo":0.61,"hi":0.62,"n":38},{"id":"hsa_circ_0024604","lo":0.62,"hi":0.63,"n":28},{"id":"hsa_circ_0024604","lo":0.63,"hi":0.64,"n":30},{"id":"hsa_circ_0024604","lo":0.64,"hi":0.65,"n":35},{"id":"hsa_circ_0024604","lo":0.65,"hi":0.66,"n":26},{"id":"hsa_circ_0024604","lo":0.66,"hi":0.67,"n":30},{"id":"hsa_circ_0024604","lo":0.67,"hi":0.68,"n":28},{"id":"hsa_circ_0024604","lo":0.68,"hi":0.69,"n":24},{"id":"hsa_circ_0024604","lo":0.69,"hi":0.7,"n":32},
{"id":"hsa_circ_0024604","lo":0.7,"hi":0.71,"n":26},{"id":"hsa_circ_0024604","lo":0.71,"hi":0.72,"n":22},{"id":"hsa_circ_0024604","lo":0.72,"hi":0.73,"n":28},{"id":"hsa_circ_0024604","lo":0.73,"hi":0.74,"n":24},{"id":"hsa_circ_0024604","lo":0.74,"hi":0.75,"n":20},{"id":"hsa_circ_0024604","lo":0.75,"hi":0.76,"n":26},{"id":"hsa_circ_0024604","lo":0.76,"hi":0.77,"n":22},{"id":"hsa_circ_0024604","lo":0.77,"hi":0.78,"n":24},{"id":"hsa_circ_0024604","lo":0.78,"hi":0.79,"n":20},{"id":"hsa_circ_0024604","lo":0.79,"hi":0.8,"n":18},
{"id":"hsa_circ_0024604","lo":0.8,"hi":0.81,"n":22},{"id":"hsa_circ_0024604","lo":0.81,"hi":0.82,"n":20},{"id":"hsa_circ_0024604","lo":0.82,"hi":0.83,"n":16},{"id":"hsa_circ_0024604","lo":0.83,"hi":0.84,"n":18},{"id":"hsa_circ_0024604","lo":0.84,"hi":0.85,"n":22},{"id":"hsa_circ_0024604","lo":0.85,"hi":0.86,"n":15},{"id":"hsa_circ_0024604","lo":0.86,"hi":0.87,"n":16},{"id":"hsa_circ_0024604","lo":0.87,"hi":0.88,"n":18},{"id":"hsa_circ_0024604","lo":0.88,"hi":0.89,"n":14},{"id":"hsa_circ_0024604","lo":0.89,"hi":0.9,"n":12},
{"id":"hsa_circ_0024604","lo":0.9,"hi":0.91,"n":15},{"id":"hsa_circ_0024604","lo":0.91,"hi":0.92,"n":13},{"id":"hsa_circ_0024604","lo":0.92,"hi":0.93,"n":14},{"id":"hsa_circ_0024604","lo":0.93,"hi":0.94,"n":12},{"id":"hsa_circ_0024604","lo":0.94,"hi":0.95,"n":10},{"id":"hsa_circ_0024604","lo":0.95,"hi":0.96,"n":12},{"id":"hsa_circ_0024604","lo":0.96,"hi":0.97,"n":10},{"id":"hsa_circ_0024604","lo":0.97,"hi":0.98,"n":9},{"id":"hsa_circ_0024604","lo":0.98,"hi":0.99,"n":8},{"id":"hsa_circ_0024604","lo":0.99,"hi":1,"n":1000},
{"id":"hsa_circ_0000228","lo":0,"hi":0.01,"n":587},{"id":"hsa_circ_0000228","lo":0.01,"hi":0.02,"n":279},{"id":"hsa_circ_0000228","lo":0.02,"hi":0.03,"n":223},{"id":"hsa_circ_0000228","lo":0.03,"hi":0.04,"n":200},{"id":"hsa_circ_0000228","lo":0.04,"hi":0.05,"n":132},{"id":"hsa_circ_0000228","lo":0.05,"hi":0.06,"n":125},{"id":"hsa_circ_0000228","lo":0.06,"hi":0.07,"n":132},{"id":"hsa_circ_0000228","lo":0.07,"hi":0.08,"n":175},{"id":"hsa_circ_0000228","lo":0.08,"hi":0.09,"n":91},{"id":"hsa_circ_0000228","lo":0.09,"hi":0.1,"n":134},
{"id":"hsa_circ_0000228","lo":0.1,"hi":0.11,"n":142},{"id":"hsa_circ_0000228","lo":0.11,"hi":0.12,"n":87},{"id":"hsa_circ_0000228","lo":0.12,"hi":0.13,"n":109},{"id":"hsa_circ_0000228","lo":0.13,"hi":0.14,"n":125},{"id":"hsa_circ_0000228","lo":0.14,"hi":0.15,"n":115},{"id":"hsa_circ_0000228","lo":0.15,"hi":0.16,"n":109},{"id":"hsa_circ_0000228","lo":0.16,"hi":0.17,"n":106},{"id":"hsa_circ_0000228","lo":0.17,"hi":0.18,"n":100},{"id":"hsa_circ_0000228","lo":0.18,"hi":0.19,"n":95},{"id":"hsa_circ_0000228","lo":0.19,"hi":0.2,"n":105},
{"id":"hsa_circ_0000228","lo":0.2,"hi":0.21,"n":100},{"id":"hsa_circ_0000228","lo":0.21,"hi":0.22,"n":90},{"id":"hsa_circ_0000228","lo":0.22,"hi":0.23,"n":75},{"id":"hsa_circ_0000228","lo":0.23,"hi":0.24,"n":189},{"id":"hsa_circ_0000228","lo":0.24,"hi":0.25,"n":70},{"id":"hsa_circ_0000228","lo":0.25,"hi":0.26,"n":60},{"id":"hsa_circ_0000228","lo":0.26,"hi":0.27,"n":153},{"id":"hsa_circ_0000228","lo":0.27,"hi":0.28,"n":85},{"id":"hsa_circ_0000228","lo":0.28,"hi":0.29,"n":55},{"id":"hsa_circ_0000228","lo":0.29,"hi":0.3,"n":132},
{"id":"hsa_circ_0000228","lo":0.3,"hi":0.31,"n":80},{"id":"hsa_circ_0000228","lo":0.31,"hi":0.32,"n":65},{"id":"hsa_circ_0000228","lo":0.32,"hi":0.33,"n":157},{"id":"hsa_circ_0000228","lo":0.33,"hi":0.34,"n":75},{"id":"hsa_circ_0000228","lo":0.34,"hi":0.35,"n":62},{"id":"hsa_circ_0000228","lo":0.35,"hi":0.36,"n":128},{"id":"hsa_circ_0000228","lo":0.36,"hi":0.37,"n":90},{"id":"hsa_circ_0000228","lo":0.37,"hi":0.38,"n":55},{"id":"hsa_circ_0000228","lo":0.38,"hi":0.39,"n":142},{"id":"hsa_circ_0000228","lo":0.39,"hi":0.4,"n":70},
{"id":"hsa_circ_0000228","lo":0.4,"hi":0.41,"n":48},{"id":"hsa_circ_0000228","lo":0.41,"hi":0.42,"n":100},{"id":"hsa_circ_0000228","lo":0.42,"hi":0.43,"n":60},{"id":"hsa_circ_0000228","lo":0.43,"hi":0.44,"n":45},{"id":"hsa_circ_0000228","lo":0.44,"hi":0.45,"n":100},{"id":"hsa_circ_0000228","lo":0.45,"hi":0.46,"n":72},{"id":"hsa_circ_0000228","lo":0.46,"hi":0.47,"n":81},{"id":"hsa_circ_0000228","lo":0.47,"hi":0.48,"n":40},{"id":"hsa_circ_0000228","lo":0.48,"hi":0.49,"n":55},{"id":"hsa_circ_0000228","lo":0.49,"hi":0.5,"n":100},
{"id":"hsa_circ_0000228","lo":0.5,"hi":0.51,"n":50},{"id":"hsa_circ_0000228","lo":0.51,"hi":0.52,"n":62},{"id":"hsa_circ_0000228","lo":0.52,"hi":0.53,"n":57},{"id":"hsa_circ_0000228","lo":0.53,"hi":0.54,"n":65},{"id":"hsa_circ_0000228","lo":0.54,"hi":0.55,"n":68},{"id":"hsa_circ_0000228","lo":0.55,"hi":0.56,"n":40},{"id":"hsa_circ_0000228","lo":0.56,"hi":0.57,"n":213},{"id":"hsa_circ_0000228","lo":0.57,"hi":0.58,"n":30},{"id":"hsa_circ_0000228","lo":0.58,"hi":0.59,"n":28},{"id":"hsa_circ_0000228","lo":0.59,"hi":0.6,"n":232},
{"id":"hsa_circ_0000228","lo":0.6,"hi":0.61,"n":50},{"id":"hsa_circ_0000228","lo":0.61,"hi":0.62,"n":142},{"id":"hsa_circ_0000228","lo":0.62,"hi":0.63,"n":81},{"id":"hsa_circ_0000228","lo":0.63,"hi":0.64,"n":160},{"id":"hsa_circ_0000228","lo":0.64,"hi":0.65,"n":34},{"id":"hsa_circ_0000228","lo":0.65,"hi":0.66,"n":109},{"id":"hsa_circ_0000228","lo":0.66,"hi":0.67,"n":125},{"id":"hsa_circ_0000228","lo":0.67,"hi":0.68,"n":58},{"id":"hsa_circ_0000228","lo":0.68,"hi":0.69,"n":119},{"id":"hsa_circ_0000228","lo":0.69,"hi":0.7,"n":115},
{"id":"hsa_circ_0000228","lo":0.7,"hi":0.71,"n":113},{"id":"hsa_circ_0000228","lo":0.71,"hi":0.72,"n":96},{"id":"hsa_circ_0000228","lo":0.72,"hi":0.73,"n":85},{"id":"hsa_circ_0000228","lo":0.73,"hi":0.74,"n":77},{"id":"hsa_circ_0000228","lo":0.74,"hi":0.75,"n":68},{"id":"hsa_circ_0000228","lo":0.75,"hi":0.76,"n":72},{"id":"hsa_circ_0000228","lo":0.76,"hi":0.77,"n":77},{"id":"hsa_circ_0000228","lo":0.77,"hi":0.78,"n":66},{"id":"hsa_circ_0000228","lo":0.78,"hi":0.79,"n":68},{"id":"hsa_circ_0000228","lo":0.79,"hi":0.8,"n":58},
{"id":"hsa_circ_0000228","lo":0.8,"hi":0.81,"n":57},{"id":"hsa_circ_0000228","lo":0.81,"hi":0.82,"n":62},{"id":"hsa_circ_0000228","lo":0.82,"hi":0.83,"n":55},{"id":"hsa_circ_0000228","lo":0.83,"hi":0.84,"n":48},{"id":"hsa_circ_0000228","lo":0.84,"hi":0.85,"n":52},{"id":"hsa_circ_0000228","lo":0.85,"hi":0.86,"n":45},{"id":"hsa_circ_0000228","lo":0.86,"hi":0.87,"n":50},{"id":"hsa_circ_0000228","lo":0.87,"hi":0.88,"n":43},{"id":"hsa_circ_0000228","lo":0.88,"hi":0.89,"n":46},{"id":"hsa_circ_0000228","lo":0.89,"hi":0.9,"n":40},
{"id":"hsa_circ_0000228","lo":0.9,"hi":0.91,"n":42},{"id":"hsa_circ_0000228","lo":0.91,"hi":0.92,"n":38},{"id":"hsa_circ_0000228","lo":0.92,"hi":0.93,"n":45},{"id":"hsa_circ_0000228","lo":0.93,"hi":0.94,"n":40},{"id":"hsa_circ_0000228","lo":0.94,"hi":0.95,"n":36},{"id":"hsa_circ_0000228","lo":0.95,"hi":0.96,"n":38},{"id":"hsa_circ_0000228","lo":0.96,"hi":0.97,"n":34},{"id":"hsa_circ_0000228","lo":0.97,"hi":0.98,"n":32},{"id":"hsa_circ_0000228","lo":0.98,"hi":0.99,"n":30},{"id":"hsa_circ_0000228","lo":0.99,"hi":1,"n":1000},
{"id":"hsa_circ_0001540","lo":0,"hi":0.01,"n":1000},{"id":"hsa_circ_0001540","lo":0.01,"hi":0.02,"n":374},{"id":"hsa_circ_0001540","lo":0.02,"hi":0.03,"n":308},{"id":"hsa_circ_0001540","lo":0.03,"hi":0.04,"n":232},{"id":"hsa_circ_0001540","lo":0.04,"hi":0.05,"n":170},{"id":"hsa_circ_0001540","lo":0.05,"hi":0.06,"n":162},{"id":"hsa_circ_0001540","lo":0.06,"hi":0.07,"n":142},{"id":"hsa_circ_0001540","lo":0.07,"hi":0.08,"n":138},{"id":"hsa_circ_0001540","lo":0.08,"hi":0.09,"n":157},{"id":"hsa_circ_0001540","lo":0.09,"hi":0.1,"n":100},
{"id":"hsa_circ_0001540","lo":0.1,"hi":0.11,"n":132},{"id":"hsa_circ_0001540","lo":0.11,"hi":0.12,"n":113},{"id":"hsa_circ_0001540","lo":0.12,"hi":0.13,"n":157},{"id":"hsa_circ_0001540","lo":0.13,"hi":0.14,"n":68},{"id":"hsa_circ_0001540","lo":0.14,"hi":0.15,"n":120},{"id":"hsa_circ_0001540","lo":0.15,"hi":0.16,"n":80},{"id":"hsa_circ_0001540","lo":0.16,"hi":0.17,"n":110},{"id":"hsa_circ_0001540","lo":0.17,"hi":0.18,"n":75},{"id":"hsa_circ_0001540","lo":0.18,"hi":0.19,"n":95},{"id":"hsa_circ_0001540","lo":0.19,"hi":0.2,"n":194},
{"id":"hsa_circ_0001540","lo":0.2,"hi":0.21,"n":72},{"id":"hsa_circ_0001540","lo":0.21,"hi":0.22,"n":91},{"id":"hsa_circ_0001540","lo":0.22,"hi":0.23,"n":81},{"id":"hsa_circ_0001540","lo":0.23,"hi":0.24,"n":75},{"id":"hsa_circ_0001540","lo":0.24,"hi":0.25,"n":120},{"id":"hsa_circ_0001540","lo":0.25,"hi":0.26,"n":60},{"id":"hsa_circ_0001540","lo":0.26,"hi":0.27,"n":50},{"id":"hsa_circ_0001540","lo":0.27,"hi":0.28,"n":147},{"id":"hsa_circ_0001540","lo":0.28,"hi":0.29,"n":62},{"id":"hsa_circ_0001540","lo":0.29,"hi":0.3,"n":77},
{"id":"hsa_circ_0001540","lo":0.3,"hi":0.31,"n":109},{"id":"hsa_circ_0001540","lo":0.31,"hi":0.32,"n":43},{"id":"hsa_circ_0001540","lo":0.32,"hi":0.33,"n":81},{"id":"hsa_circ_0001540","lo":0.33,"hi":0.34,"n":119},{"id":"hsa_circ_0001540","lo":0.34,"hi":0.35,"n":72},{"id":"hsa_circ_0001540","lo":0.35,"hi":0.36,"n":109},{"id":"hsa_circ_0001540","lo":0.36,"hi":0.37,"n":43},{"id":"hsa_circ_0001540","lo":0.37,"hi":0.38,"n":38},{"id":"hsa_circ_0001540","lo":0.38,"hi":0.39,"n":62},{"id":"hsa_circ_0001540","lo":0.39,"hi":0.4,"n":90},
{"id":"hsa_circ_0001540","lo":0.4,"hi":0.41,"n":55},{"id":"hsa_circ_0001540","lo":0.41,"hi":0.42,"n":70},{"id":"hsa_circ_0001540","lo":0.42,"hi":0.43,"n":45},{"id":"hsa_circ_0001540","lo":0.43,"hi":0.44,"n":60},{"id":"hsa_circ_0001540","lo":0.44,"hi":0.45,"n":55},{"id":"hsa_circ_0001540","lo":0.45,"hi":0.46,"n":125},{"id":"hsa_circ_0001540","lo":0.46,"hi":0.47,"n":100},{"id":"hsa_circ_0001540","lo":0.47,"hi":0.48,"n":85},{"id":"hsa_circ_0001540","lo":0.48,"hi":0.49,"n":100},{"id":"hsa_circ_0001540","lo":0.49,"hi":0.5,"n":66},
{"id":"hsa_circ_0001540","lo":0.5,"hi":0.51,"n":25},{"id":"hsa_circ_0001540","lo":0.51,"hi":0.52,"n":60},{"id":"hsa_circ_0001540","lo":0.52,"hi":0.53,"n":45},{"id":"hsa_circ_0001540","lo":0.53,"hi":0.54,"n":70},{"id":"hsa_circ_0001540","lo":0.54,"hi":0.55,"n":50},{"id":"hsa_circ_0001540","lo":0.55,"hi":0.56,"n":143},{"id":"hsa_circ_0001540","lo":0.56,"hi":0.57,"n":25},{"id":"hsa_circ_0001540","lo":0.57,"hi":0.58,"n":43},{"id":"hsa_circ_0001540","lo":0.58,"hi":0.59,"n":81},{"id":"hsa_circ_0001540","lo":0.59,"hi":0.6,"n":53},
{"id":"hsa_circ_0001540","lo":0.6,"hi":0.61,"n":38},{"id":"hsa_circ_0001540","lo":0.61,"hi":0.62,"n":34},{"id":"hsa_circ_0001540","lo":0.62,"hi":0.63,"n":62},{"id":"hsa_circ_0001540","lo":0.63,"hi":0.64,"n":45},{"id":"hsa_circ_0001540","lo":0.64,"hi":0.65,"n":40},{"id":"hsa_circ_0001540","lo":0.65,"hi":0.66,"n":50},{"id":"hsa_circ_0001540","lo":0.66,"hi":0.67,"n":35},{"id":"hsa_circ_0001540","lo":0.67,"hi":0.68,"n":138},{"id":"hsa_circ_0001540","lo":0.68,"hi":0.69,"n":62},{"id":"hsa_circ_0001540","lo":0.69,"hi":0.7,"n":87},
{"id":"hsa_circ_0001540","lo":0.7,"hi":0.71,"n":81},{"id":"hsa_circ_0001540","lo":0.71,"hi":0.72,"n":34},{"id":"hsa_circ_0001540","lo":0.72,"hi":0.73,"n":50},{"id":"hsa_circ_0001540","lo":0.73,"hi":0.74,"n":60},{"id":"hsa_circ_0001540","lo":0.74,"hi":0.75,"n":40},{"id":"hsa_circ_0001540","lo":0.75,"hi":0.76,"n":109},{"id":"hsa_circ_0001540","lo":0.76,"hi":0.77,"n":34},{"id":"hsa_circ_0001540","lo":0.77,"hi":0.78,"n":25},{"id":"hsa_circ_0001540","lo":0.78,"hi":0.79,"n":72},{"id":"hsa_circ_0001540","lo":0.79,"hi":0.8,"n":43},
{"id":"hsa_circ_0001540","lo":0.8,"hi":0.81,"n":62},{"id":"hsa_circ_0001540","lo":0.81,"hi":0.82,"n":43},{"id":"hsa_circ_0001540","lo":0.82,"hi":0.83,"n":55},{"id":"hsa_circ_0001540","lo":0.83,"hi":0.84,"n":45},{"id":"hsa_circ_0001540","lo":0.84,"hi":0.85,"n":50},{"id":"hsa_circ_0001540","lo":0.85,"hi":0.86,"n":40},{"id":"hsa_circ_0001540","lo":0.86,"hi":0.87,"n":25},{"id":"hsa_circ_0001540","lo":0.87,"hi":0.88,"n":143},{"id":"hsa_circ_0001540","lo":0.88,"hi":0.89,"n":53},{"id":"hsa_circ_0001540","lo":0.89,"hi":0.9,"n":35},
{"id":"hsa_circ_0001540","lo":0.9,"hi":0.91,"n":100},{"id":"hsa_circ_0001540","lo":0.91,"hi":0.92,"n":87},{"id":"hsa_circ_0001540","lo":0.92,"hi":0.93,"n":62},{"id":"hsa_circ_0001540","lo":0.93,"hi":0.94,"n":58},{"id":"hsa_circ_0001540","lo":0.94,"hi":0.95,"n":62},{"id":"hsa_circ_0001540","lo":0.95,"hi":0.96,"n":60},{"id":"hsa_circ_0001540","lo":0.96,"hi":0.97,"n":64},{"id":"hsa_circ_0001540","lo":0.97,"hi":0.98,"n":62},{"id":"hsa_circ_0001540","lo":0.98,"hi":0.99,"n":66},{"id":"hsa_circ_0001540","lo":0.99,"hi":1,"n":232},
{"id":"hsa_circ_0044708","lo":0,"hi":0.01,"n":862},{"id":"hsa_circ_0044708","lo":0.01,"hi":0.02,"n":311},{"id":"hsa_circ_0044708","lo":0.02,"hi":0.03,"n":221},{"id":"hsa_circ_0044708","lo":0.03,"hi":0.04,"n":198},{"id":"hsa_circ_0044708","lo":0.04,"hi":0.05,"n":174},{"id":"hsa_circ_0044708","lo":0.05,"hi":0.06,"n":136},{"id":"hsa_circ_0044708","lo":0.06,"hi":0.07,"n":136},{"id":"hsa_circ_0044708","lo":0.07,"hi":0.08,"n":147},{"id":"hsa_circ_0044708","lo":0.08,"hi":0.09,"n":151},{"id":"hsa_circ_0044708","lo":0.09,"hi":0.1,"n":128},
{"id":"hsa_circ_0044708","lo":0.1,"hi":0.11,"n":142},{"id":"hsa_circ_0044708","lo":0.11,"hi":0.12,"n":145},{"id":"hsa_circ_0044708","lo":0.12,"hi":0.13,"n":60},{"id":"hsa_circ_0044708","lo":0.13,"hi":0.14,"n":142},{"id":"hsa_circ_0044708","lo":0.14,"hi":0.15,"n":51},{"id":"hsa_circ_0044708","lo":0.15,"hi":0.16,"n":113},{"id":"hsa_circ_0044708","lo":0.16,"hi":0.17,"n":104},{"id":"hsa_circ_0044708","lo":0.17,"hi":0.18,"n":109},{"id":"hsa_circ_0044708","lo":0.18,"hi":0.19,"n":70},{"id":"hsa_circ_0044708","lo":0.19,"hi":0.2,"n":120},
{"id":"hsa_circ_0044708","lo":0.2,"hi":0.21,"n":65},{"id":"hsa_circ_0044708","lo":0.21,"hi":0.22,"n":100},{"id":"hsa_circ_0044708","lo":0.22,"hi":0.23,"n":60},{"id":"hsa_circ_0044708","lo":0.23,"hi":0.24,"n":90},{"id":"hsa_circ_0044708","lo":0.24,"hi":0.25,"n":198},{"id":"hsa_circ_0044708","lo":0.25,"hi":0.26,"n":70},{"id":"hsa_circ_0044708","lo":0.26,"hi":0.27,"n":75},{"id":"hsa_circ_0044708","lo":0.27,"hi":0.28,"n":110},{"id":"hsa_circ_0044708","lo":0.28,"hi":0.29,"n":174},{"id":"hsa_circ_0044708","lo":0.29,"hi":0.3,"n":89},
{"id":"hsa_circ_0044708","lo":0.3,"hi":0.31,"n":128},{"id":"hsa_circ_0044708","lo":0.31,"hi":0.32,"n":94},{"id":"hsa_circ_0044708","lo":0.32,"hi":0.33,"n":60},{"id":"hsa_circ_0044708","lo":0.33,"hi":0.34,"n":80},{"id":"hsa_circ_0044708","lo":0.34,"hi":0.35,"n":164},{"id":"hsa_circ_0044708","lo":0.35,"hi":0.36,"n":55},{"id":"hsa_circ_0044708","lo":0.36,"hi":0.37,"n":70},{"id":"hsa_circ_0044708","lo":0.37,"hi":0.38,"n":151},{"id":"hsa_circ_0044708","lo":0.38,"hi":0.39,"n":123},{"id":"hsa_circ_0044708","lo":0.39,"hi":0.4,"n":55},
{"id":"hsa_circ_0044708","lo":0.4,"hi":0.41,"n":145},{"id":"hsa_circ_0044708","lo":0.41,"hi":0.42,"n":47},{"id":"hsa_circ_0044708","lo":0.42,"hi":0.43,"n":100},{"id":"hsa_circ_0044708","lo":0.43,"hi":0.44,"n":50},{"id":"hsa_circ_0044708","lo":0.44,"hi":0.45,"n":70},{"id":"hsa_circ_0044708","lo":0.45,"hi":0.46,"n":60},{"id":"hsa_circ_0044708","lo":0.46,"hi":0.47,"n":132},{"id":"hsa_circ_0044708","lo":0.47,"hi":0.48,"n":113},{"id":"hsa_circ_0044708","lo":0.48,"hi":0.49,"n":98},{"id":"hsa_circ_0044708","lo":0.49,"hi":0.5,"n":66},
{"id":"hsa_circ_0044708","lo":0.5,"hi":0.51,"n":81},{"id":"hsa_circ_0044708","lo":0.51,"hi":0.52,"n":45},{"id":"hsa_circ_0044708","lo":0.52,"hi":0.53,"n":113},{"id":"hsa_circ_0044708","lo":0.53,"hi":0.54,"n":85},{"id":"hsa_circ_0044708","lo":0.54,"hi":0.55,"n":50},{"id":"hsa_circ_0044708","lo":0.55,"hi":0.56,"n":60},{"id":"hsa_circ_0044708","lo":0.56,"hi":0.57,"n":90},{"id":"hsa_circ_0044708","lo":0.57,"hi":0.58,"n":70},{"id":"hsa_circ_0044708","lo":0.58,"hi":0.59,"n":40},{"id":"hsa_circ_0044708","lo":0.59,"hi":0.6,"n":170},
{"id":"hsa_circ_0044708","lo":0.6,"hi":0.61,"n":53},{"id":"hsa_circ_0044708","lo":0.61,"hi":0.62,"n":100},{"id":"hsa_circ_0044708","lo":0.62,"hi":0.63,"n":221},{"id":"hsa_circ_0044708","lo":0.63,"hi":0.64,"n":53},{"id":"hsa_circ_0044708","lo":0.64,"hi":0.65,"n":80},{"id":"hsa_circ_0044708","lo":0.65,"hi":0.66,"n":151},{"id":"hsa_circ_0044708","lo":0.66,"hi":0.67,"n":57},{"id":"hsa_circ_0044708","lo":0.67,"hi":0.68,"n":70},{"id":"hsa_circ_0044708","lo":0.68,"hi":0.69,"n":157},{"id":"hsa_circ_0044708","lo":0.69,"hi":0.7,"n":42},
{"id":"hsa_circ_0044708","lo":0.7,"hi":0.71,"n":60},{"id":"hsa_circ_0044708","lo":0.71,"hi":0.72,"n":136},{"id":"hsa_circ_0044708","lo":0.72,"hi":0.73,"n":104},{"id":"hsa_circ_0044708","lo":0.73,"hi":0.74,"n":57},{"id":"hsa_circ_0044708","lo":0.74,"hi":0.75,"n":85},{"id":"hsa_circ_0044708","lo":0.75,"hi":0.76,"n":113},{"id":"hsa_circ_0044708","lo":0.76,"hi":0.77,"n":75},{"id":"hsa_circ_0044708","lo":0.77,"hi":0.78,"n":104},{"id":"hsa_circ_0044708","lo":0.78,"hi":0.79,"n":94},{"id":"hsa_circ_0044708","lo":0.79,"hi":0.8,"n":85},
{"id":"hsa_circ_0044708","lo":0.8,"hi":0.81,"n":66},{"id":"hsa_circ_0044708","lo":0.81,"hi":0.82,"n":60},{"id":"hsa_circ_0044708","lo":0.82,"hi":0.83,"n":66},{"id":"hsa_circ_0044708","lo":0.83,"hi":0.84,"n":51},{"id":"hsa_circ_0044708","lo":0.84,"hi":0.85,"n":53},{"id":"hsa_circ_0044708","lo":0.85,"hi":0.86,"n":47},{"id":"hsa_circ_0044708","lo":0.86,"hi":0.87,"n":51},{"id":"hsa_circ_0044708","lo":0.87,"hi":0.88,"n":43},{"id":"hsa_circ_0044708","lo":0.88,"hi":0.89,"n":45},{"id":"hsa_circ_0044708","lo":0.89,"hi":0.9,"n":38},
{"id":"hsa_circ_0044708","lo":0.9,"hi":0.91,"n":42},{"id":"hsa_circ_0044708","lo":0.91,"hi":0.92,"n":40},{"id":"hsa_circ_0044708","lo":0.92,"hi":0.93,"n":38},{"id":"hsa_circ_0044708","lo":0.93,"hi":0.94,"n":36},{"id":"hsa_circ_0044708","lo":0.94,"hi":0.95,"n":40},{"id":"hsa_circ_0044708","lo":0.95,"hi":0.96,"n":34},{"id":"hsa_circ_0044708","lo":0.96,"hi":0.97,"n":38},{"id":"hsa_circ_0044708","lo":0.97,"hi":0.98,"n":32},{"id":"hsa_circ_0044708","lo":0.98,"hi":0.99,"n":35},{"id":"hsa_circ_0044708","lo":0.99,"hi":1,"n":1000},
{"id":"hsa_circ_0003583","lo":0,"hi":0.01,"n":810},{"id":"hsa_circ_0003583","lo":0.01,"hi":0.02,"n":255},{"id":"hsa_circ_0003583","lo":0.02,"hi":0.03,"n":245},{"id":"hsa_circ_0003583","lo":0.03,"hi":0.04,"n":200},{"id":"hsa_circ_0003583","lo":0.04,"hi":0.05,"n":165},{"id":"hsa_circ_0003583","lo":0.05,"hi":0.06,"n":160},{"id":"hsa_circ_0003583","lo":0.06,"hi":0.07,"n":150},{"id":"hsa_circ_0003583","lo":0.07,"hi":0.08,"n":120},{"id":"hsa_circ_0003583","lo":0.08,"hi":0.09,"n":125},{"id":"hsa_circ_0003583","lo":0.09,"hi":0.1,"n":140},
{"id":"hsa_circ_0003583","lo":0.1,"hi":0.11,"n":130},{"id":"hsa_circ_0003583","lo":0.11,"hi":0.12,"n":150},{"id":"hsa_circ_0003583","lo":0.12,"hi":0.13,"n":165},{"id":"hsa_circ_0003583","lo":0.13,"hi":0.14,"n":175},{"id":"hsa_circ_0003583","lo":0.14,"hi":0.15,"n":140},{"id":"hsa_circ_0003583","lo":0.15,"hi":0.16,"n":160},{"id":"hsa_circ_0003583","lo":0.16,"hi":0.17,"n":150},{"id":"hsa_circ_0003583","lo":0.17,"hi":0.18,"n":110},{"id":"hsa_circ_0003583","lo":0.18,"hi":0.19,"n":135},{"id":"hsa_circ_0003583","lo":0.19,"hi":0.2,"n":175},
{"id":"hsa_circ_0003583","lo":0.2,"hi":0.21,"n":150},{"id":"hsa_circ_0003583","lo":0.21,"hi":0.22,"n":130},{"id":"hsa_circ_0003583","lo":0.22,"hi":0.23,"n":140},{"id":"hsa_circ_0003583","lo":0.23,"hi":0.24,"n":100},{"id":"hsa_circ_0003583","lo":0.24,"hi":0.25,"n":145},{"id":"hsa_circ_0003583","lo":0.25,"hi":0.26,"n":120},{"id":"hsa_circ_0003583","lo":0.26,"hi":0.27,"n":90},{"id":"hsa_circ_0003583","lo":0.27,"hi":0.28,"n":130},{"id":"hsa_circ_0003583","lo":0.28,"hi":0.29,"n":110},{"id":"hsa_circ_0003583","lo":0.29,"hi":0.3,"n":85},
{"id":"hsa_circ_0003583","lo":0.3,"hi":0.31,"n":80},{"id":"hsa_circ_0003583","lo":0.31,"hi":0.32,"n":120},{"id":"hsa_circ_0003583","lo":0.32,"hi":0.33,"n":90},{"id":"hsa_circ_0003583","lo":0.33,"hi":0.34,"n":100},{"id":"hsa_circ_0003583","lo":0.34,"hi":0.35,"n":75},{"id":"hsa_circ_0003583","lo":0.35,"hi":0.36,"n":120},{"id":"hsa_circ_0003583","lo":0.36,"hi":0.37,"n":70},{"id":"hsa_circ_0003583","lo":0.37,"hi":0.38,"n":110},{"id":"hsa_circ_0003583","lo":0.38,"hi":0.39,"n":65},{"id":"hsa_circ_0003583","lo":0.39,"hi":0.4,"n":95},
{"id":"hsa_circ_0003583","lo":0.4,"hi":0.41,"n":60},{"id":"hsa_circ_0003583","lo":0.41,"hi":0.42,"n":80},{"id":"hsa_circ_0003583","lo":0.42,"hi":0.43,"n":55},{"id":"hsa_circ_0003583","lo":0.43,"hi":0.44,"n":240},{"id":"hsa_circ_0003583","lo":0.44,"hi":0.45,"n":60},{"id":"hsa_circ_0003583","lo":0.45,"hi":0.46,"n":90},{"id":"hsa_circ_0003583","lo":0.46,"hi":0.47,"n":50},{"id":"hsa_circ_0003583","lo":0.47,"hi":0.48,"n":200},{"id":"hsa_circ_0003583","lo":0.48,"hi":0.49,"n":70},{"id":"hsa_circ_0003583","lo":0.49,"hi":0.5,"n":55},
{"id":"hsa_circ_0003583","lo":0.5,"hi":0.51,"n":90},{"id":"hsa_circ_0003583","lo":0.51,"hi":0.52,"n":190},{"id":"hsa_circ_0003583","lo":0.52,"hi":0.53,"n":65},{"id":"hsa_circ_0003583","lo":0.53,"hi":0.54,"n":80},{"id":"hsa_circ_0003583","lo":0.54,"hi":0.55,"n":60},{"id":"hsa_circ_0003583","lo":0.55,"hi":0.56,"n":160},{"id":"hsa_circ_0003583","lo":0.56,"hi":0.57,"n":70},{"id":"hsa_circ_0003583","lo":0.57,"hi":0.58,"n":100},{"id":"hsa_circ_0003583","lo":0.58,"hi":0.59,"n":55},{"id":"hsa_circ_0003583","lo":0.59,"hi":0.6,"n":150},
{"id":"hsa_circ_0003583","lo":0.6,"hi":0.61,"n":90},{"id":"hsa_circ_0003583","lo":0.61,"hi":0.62,"n":60},{"id":"hsa_circ_0003583","lo":0.62,"hi":0.63,"n":130},{"id":"hsa_circ_0003583","lo":0.63,"hi":0.64,"n":55},{"id":"hsa_circ_0003583","lo":0.64,"hi":0.65,"n":130},{"id":"hsa_circ_0003583","lo":0.65,"hi":0.66,"n":110},{"id":"hsa_circ_0003583","lo":0.66,"hi":0.67,"n":60},{"id":"hsa_circ_0003583","lo":0.67,"hi":0.68,"n":100},{"id":"hsa_circ_0003583","lo":0.68,"hi":0.69,"n":90},{"id":"hsa_circ_0003583","lo":0.69,"hi":0.7,"n":55},
{"id":"hsa_circ_0003583","lo":0.7,"hi":0.71,"n":85},{"id":"hsa_circ_0003583","lo":0.71,"hi":0.72,"n":80},{"id":"hsa_circ_0003583","lo":0.72,"hi":0.73,"n":70},{"id":"hsa_circ_0003583","lo":0.73,"hi":0.74,"n":80},{"id":"hsa_circ_0003583","lo":0.74,"hi":0.75,"n":65},{"id":"hsa_circ_0003583","lo":0.75,"hi":0.76,"n":70},{"id":"hsa_circ_0003583","lo":0.76,"hi":0.77,"n":60},{"id":"hsa_circ_0003583","lo":0.77,"hi":0.78,"n":65},{"id":"hsa_circ_0003583","lo":0.78,"hi":0.79,"n":70},{"id":"hsa_circ_0003583","lo":0.79,"hi":0.8,"n":55},
{"id":"hsa_circ_0003583","lo":0.8,"hi":0.81,"n":60},{"id":"hsa_circ_0003583","lo":0.81,"hi":0.82,"n":50},{"id":"hsa_circ_0003583","lo":0.82,"hi":0.83,"n":55},{"id":"hsa_circ_0003583","lo":0.83,"hi":0.84,"n":50},{"id":"hsa_circ_0003583","lo":0.84,"hi":0.85,"n":48},{"id":"hsa_circ_0003583","lo":0.85,"hi":0.86,"n":45},{"id":"hsa_circ_0003583","lo":0.86,"hi":0.87,"n":50},{"id":"hsa_circ_0003583","lo":0.87,"hi":0.88,"n":42},{"id":"hsa_circ_0003583","lo":0.88,"hi":0.89,"n":45},{"id":"hsa_circ_0003583","lo":0.89,"hi":0.9,"n":40},
{"id":"hsa_circ_0003583","lo":0.9,"hi":0.91,"n":42},{"id":"hsa_circ_0003583","lo":0.91,"hi":0.92,"n":38},{"id":"hsa_circ_0003583","lo":0.92,"hi":0.93,"n":45},{"id":"hsa_circ_0003583","lo":0.93,"hi":0.94,"n":40},{"id":"hsa_circ_0003583","lo":0.94,"hi":0.95,"n":38},{"id":"hsa_circ_0003583","lo":0.95,"hi":0.96,"n":42},{"id":"hsa_circ_0003583","lo":0.96,"hi":0.97,"n":40},{"id":"hsa_circ_0003583","lo":0.97,"hi":0.98,"n":38},{"id":"hsa_circ_0003583","lo":0.98,"hi":0.99,"n":40},{"id":"hsa_circ_0003583","lo":0.99,"hi":1,"n":1000}
]},
"facet":{"field":"id","type":"nominal","sort":["hsa_circ_0000005","hsa_circ_0002816","hsa_circ_0000006","hsa_circ_0001897","hsa_circ_0004624","hsa_circ_0024604","hsa_circ_0000228","hsa_circ_0001540","hsa_circ_0044708","hsa_circ_0003583"],"header":{"title":null,"labelFont":"DejaVu Serif","labelFontSize":23.8,"labelColor":"black","labelPadding":5}},
"columns":2,
"spacing":{"row":35,"column":45},
"resolve":{"axis":{"x":"independent","y":"independent"}},
"spec":{"width":282,"height":177,
"layer":[
{"mark":{"type":"bar","fill":"#2424ff","stroke":"#0000c8","strokeWidth":0.5},
"encoding":{
"x":{"field":"lo","type":"quantitative","bin":{"binned":true},"scale":{"domain":[-0.1,1.1],"nice":false,"zero":false},
"axis":{"orient":"bottom","values":[0,0.01,0.02,0.03,0.04,0.05,0.06,0.07,0.08,0.09,0.1,0.11,0.12,0.13,0.14,0.15,0.16,0.17,0.18,0.19,0.2,0.21,0.22,0.23,0.24,0.25,0.26,0.27,0.28,0.29,0.3,0.31,0.32,0.33,0.34,0.35,0.36,0.37,0.38,0.39,0.4,0.41,0.42,0.43,0.44,0.45,0.46,0.47,0.48,0.49,0.5,0.51,0.52,0.53,0.54,0.55,0.56,0.57,0.58,0.59,0.6,0.61,0.62,0.63,0.64,0.65,0.66,0.67,0.68,0.69,0.7,0.71,0.72,0.73,0.74,0.75,0.76,0.77,0.78,0.79,0.8,0.81,0.82,0.83,0.84,0.85,0.86,0.87,0.88,0.89,0.9,0.91,0.92,0.93,0.94,0.95,0.96,0.97,0.98,0.99,1],
"grid":true,"gridColor":"#c6c6c6","gridWidth":2.1,"ticks":true,"tickColor":"#777777","tickSize":13,"tickWidth":1,"domain":true,"domainColor":"black","domainWidth":1.5,
"labelAngle":270,"labelAlign":"right","labelBaseline":"middle","labelFont":"DejaVu Serif","labelFontSize":22,"labelColor":"black","labelPadding":12,"labelOffset":12,"labelOverlap":false,"labelFlush":false,"labelBound":false,
"labelExpr":"(datum.value < 0.95 && abs(datum.value*10 - round(datum.value*10)) < 0.001) ? format(datum.value, '.1~f') : ''",
"title":"p-value","titleFont":"DejaVu Serif","titleFontSize":25.5,"titleFontWeight":"normal","titleColor":"black","titlePadding":4}},
"x2":{"field":"hi"},
"y":{"field":"n","type":"quantitative","scale":{"domain":[0,1000],"nice":false},
"axis":{"orient":"left","values":[0,200,400,600,800,1000],"format":",d","grid":false,"ticks":false,"tickSize":0,"domain":false,"labelFont":"DejaVu Serif","labelFontSize":24,"labelColor":"black","labelPadding":8,
"title":"Term frequency","titleFont":"DejaVu Serif","titleFontSize":27,"titleFontWeight":"normal","titleColor":"black","titlePadding":3}}}},
{"mark":{"type":"bar","opacity":0},
"encoding":{
"x":{"field":"lo","type":"quantitative","bin":{"binned":true},
"axis":{"orient":"top","values":[0,0.01,0.02,0.03,0.04,0.05,0.06,0.07,0.08,0.09,0.1,0.11,0.12,0.13,0.14,0.15,0.16,0.17,0.18,0.19,0.2,0.21,0.22,0.23,0.24,0.25,0.26,0.27,0.28,0.29,0.3,0.31,0.32,0.33,0.34,0.35,0.36,0.37,0.38,0.39,0.4,0.41,0.42,0.43,0.44,0.45,0.46,0.47,0.48,0.49,0.5,0.51,0.52,0.53,0.54,0.55,0.56,0.57,0.58,0.59,0.6,0.61,0.62,0.63,0.64,0.65,0.66,0.67,0.68,0.69,0.7,0.71,0.72,0.73,0.74,0.75,0.76,0.77,0.78,0.79,0.8,0.81,0.82,0.83,0.84,0.85,0.86,0.87,0.88,0.89,0.9,0.91,0.92,0.93,0.94,0.95,0.96,0.97,0.98,0.99,1],
"grid":false,"labels":false,"ticks":true,"tickColor":"#777777","tickSize":13,"tickWidth":1,"domain":true,"domainColor":"black","domainWidth":1.5,"title":null}},
"x2":{"field":"hi"},
"y":{"field":"n","type":"quantitative",
"axis":{"orient":"right","values":[0,200,400,600,800,1000],"grid":false,"labels":false,"ticks":true,"tickColor":"#888888","tickSize":-12,"tickWidth":1.2,"domain":true,"domainColor":"black","domainWidth":1.5,"title":null}}}}
],
"resolve":{"axis":{"x":"independent","y":"independent"}}}}
